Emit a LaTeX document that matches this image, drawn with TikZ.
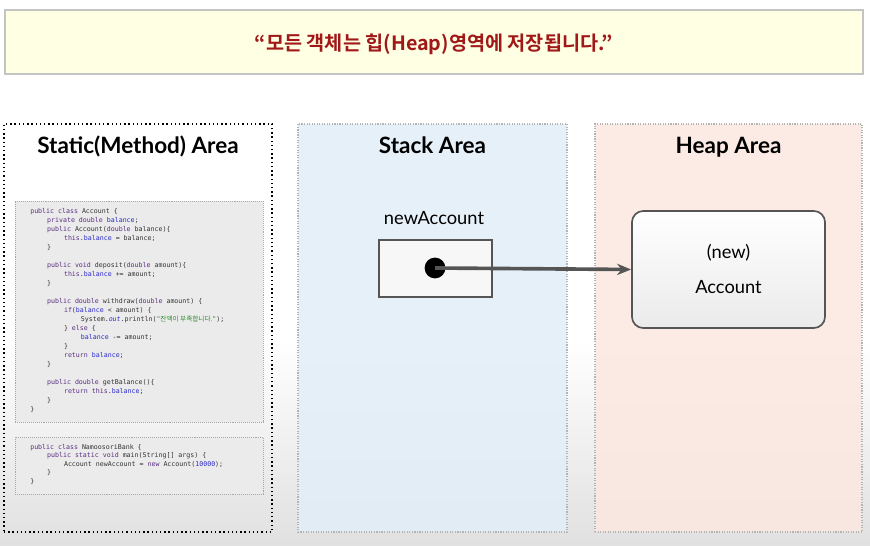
\documentclass[tikz,border=0pt]{standalone}
\usepackage{fontspec}
\setmainfont{Lato}
\setmonofont{DejaVu Sans Mono}
\newfontfamily\cjk[BoldFont={Noto Sans CJK KR Bold}]{Noto Sans CJK KR}
\usetikzlibrary{positioning, shapes, arrows.meta}

\definecolor{bannerfill}{HTML}{FFFFE3}
\definecolor{bannerline}{HTML}{C4C4C4}
\definecolor{bannertext}{HTML}{A01818}
\definecolor{stackfill}{HTML}{E2EEF8}
\definecolor{heapfill}{HTML}{FBE8E0}
\definecolor{arealine}{HTML}{B4B4B4}
\definecolor{codefill}{HTML}{EBEBEB}
\definecolor{codeline}{HTML}{A8A8A8}
\definecolor{codetext}{HTML}{333333}
\definecolor{kwcol}{HTML}{5A2D82}
\definecolor{fdcol}{HTML}{2A2AC8}
\definecolor{stcol}{HTML}{2E8B2E}
\definecolor{boxline}{HTML}{555555}

\newcommand{\kw}[1]{\textcolor{kwcol}{#1}}
\newcommand{\fd}[1]{\textcolor{fdcol}{#1}}
\newcommand{\st}[1]{\textcolor{stcol}{#1}}
\newcommand{\tb}{\hspace*{12pt}}

\tikzset{
  area/.style     = {rectangle, draw=arealine, densely dotted, line width=0.8pt, minimum height=10.2cm},
  areatitle/.style= {font=\fontsize{16}{19}\selectfont\bfseries, anchor=base},
  codebox/.style  = {rectangle, draw=codeline, densely dotted, fill=codefill, minimum width=6.2cm},
  code/.style     = {font=\ttfamily\fontsize{4.7}{6}\selectfont, anchor=base west, inner sep=0pt, text=codetext},
  label/.style    = {font=\fontsize{13}{16}\selectfont},
  ref/.style      = {-{Stealth[length=10pt, width=8pt]}, line width=2.6pt, draw=boxline}
}

\begin{document}
\begin{tikzpicture}[x=0.025cm, y=-0.025cm]
    \useasboundingbox (0,0) rectangle (870,546);
    % background
    \fill[white] (0,0) rectangle (870,546);
    \shade[top color=white, bottom color=black!12] (0,340) rectangle (870,546);

    % banner
    \node [rectangle, draw=bannerline, line width=1pt, fill=bannerfill, minimum width=21.45cm, minimum height=1.6cm] (banner) at (434,42) {};
    \node [font=\cjk\bfseries\fontsize{14}{16}\selectfont, text=bannertext] (bannertxt) at (434,44) {“모든 객체는 힙(Heap)영역에 저장됩니다.”};

    % three areas
    \node [area, draw=black, line width=1pt, dotted, minimum width=6.7cm] (static) at (138,328) {};
    \node [area, fill=stackfill, fill opacity=0.85, minimum width=6.725cm] (stack) at (432.5,328) {};
    \node [area, fill=heapfill, fill opacity=0.85, minimum width=6.675cm] (heap) at (728.5,328) {};

    \node [areatitle] (statictitle) at (138,153) {Static(Method) Area};
    \node [areatitle] (stacktitle) at (432.5,153) {Stack Area};
    \node [areatitle] (heaptitle) at (728.5,153) {Heap Area};

    % class code
    \node [codebox, minimum height=5.525cm] (code1) at (139,311.5) {};
    \foreach \t [count=\i] in {
        {\kw{public} \kw{class} Account \{},
        {\tb\kw{private} \kw{double} \fd{balance};},
        {\tb\kw{public} Account(\kw{double} balance)\{},
        {\tb\tb\kw{this}.\fd{balance} = balance;},
        {\tb\}},
        {},
        {\tb\kw{public} \kw{void} deposit(\kw{double} amount)\{},
        {\tb\tb\kw{this}.\fd{balance} += amount;},
        {\tb\}},
        {},
        {\tb\kw{public} \kw{double} withdraw(\kw{double} amount) \{},
        {\tb\tb\kw{if}(\fd{balance} < amount) \{},
        {\tb\tb\tb System.\fd{\textit{out}}.println(\st{"{\cjk 잔액이 부족합니다.}"});},
        {\tb\tb\} \kw{else} \{},
        {\tb\tb\tb\fd{balance} -= amount;},
        {\tb\tb\}},
        {\tb\tb\kw{return} \fd{balance};},
        {\tb\}},
        {},
        {\tb\kw{public} \kw{double} getBalance()\{},
        {\tb\tb\kw{return} \kw{this}.\fd{balance};},
        {\tb\}},
        {\}}}
        \node [code] (c1l\i) at (30,{213+9*(\i-1)}) {\t};

    % main code
    \node [codebox, minimum height=1.425cm] (code2) at (139,465.5) {};
    \foreach \t [count=\i] in {
        {\kw{public} \kw{class} NamoosoriBank \{},
        {\tb\kw{public} \kw{static} \kw{void} main(String[] args) \{},
        {\tb\tb Account newAccount = \kw{new} Account(\fd{10000});},
        {\tb\}},
        {\}}}
        \node [code] (c2l\i) at (30,{449+8.6*(\i-1)}) {\t};

    % reference variable
    \node [rectangle, draw=boxline, line width=1.2pt, fill=white!97!black, minimum width=2.825cm, minimum height=1.425cm] (varbox) at (435.5,268.5) {};
    \node [label] (varlabel) at (434,218) {newAccount};
    \node [circle, fill=black, inner sep=0pt, minimum size=0.52cm] (refdot) at (435,268) {};

    % object in heap
    \node [rectangle, rounded corners=8pt, draw=boxline, line width=1.2pt, top color=white, bottom color=black!8, minimum width=4.825cm, minimum height=2.925cm] (obj) at (728.5,269.5) {};
    \node [label] (objnew) at (728.5,253) {(new)};
    \node [label] (objname) at (728.5,287) {Account};

    % reference arrow
    \draw [ref] (refdot.center) -- (obj.west);
\end{tikzpicture}
\end{document}
